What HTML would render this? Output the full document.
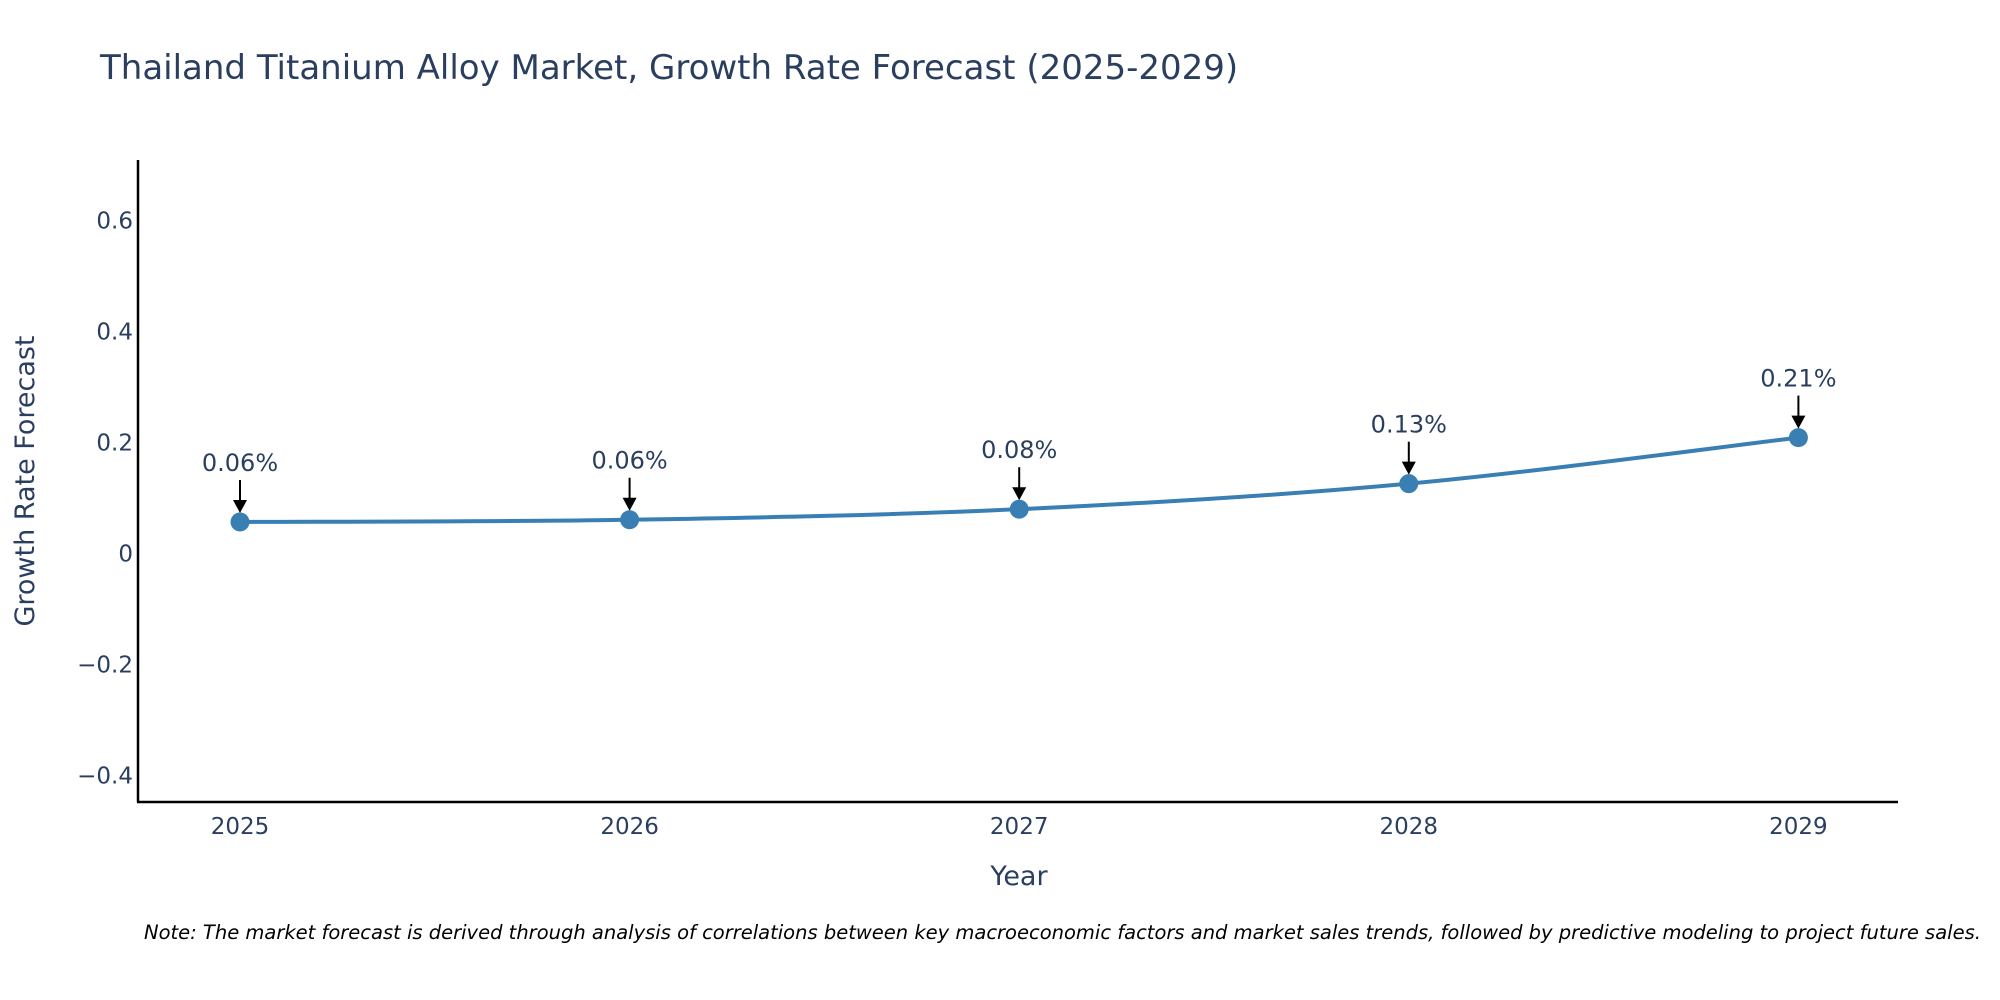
<!DOCTYPE html>
<html><head><meta charset="utf-8"><style>
body{margin:0;background:#fff;}
svg{display:block;font-family:"DejaVu Sans","Liberation Sans",sans-serif;}
</style></head><body>
<svg id="chart" width="2000" height="1000" viewBox="0 0 2000 1000">
<text x="100" y="79" font-size="34" fill="#2a3f5f">Thailand Titanium Alloy Market, Growth Rate Forecast (2025-2029)</text>
<g id="yticks"></g>
<g id="xticks"></g>
<line x1="138" y1="160" x2="138" y2="802" stroke="#000" stroke-width="2.5"/>
<line x1="137" y1="802" x2="1898" y2="802" stroke="#000" stroke-width="2.5"/>
<text x="0" y="0" transform="translate(34,481) rotate(-90)" text-anchor="middle" font-size="27" fill="#2a3f5f">Growth Rate Forecast</text>
<text x="1019" y="885" text-anchor="middle" font-size="27" fill="#2a3f5f">Year</text>
<g id="series"></g>
<text x="144" y="939" font-size="19.5" font-style="italic" fill="#000">Note: The market forecast is derived through analysis of correlations between key macroeconomic factors and market sales trends, followed by predictive modeling to project future sales.</text>
</svg>
<script>
const categories = ["2025","2026","2027","2028","2029"];
const values = [0.057, 0.061, 0.080, 0.126, 0.209];
const valueLabels = ["0.06%","0.06%","0.08%","0.13%","0.21%"];
const yTickValues = [-0.4,-0.2,0,0.2,0.4,0.6];
const yTickLabels = ["\u22120.4","\u22120.2","0","0.2","0.4","0.6"];
const NS="http://www.w3.org/2000/svg";
function xScale(i){return 240 + i*389.6;}
function yScale(v){return 553.6 - v*555;}
function mk(tag,attrs,parent){const e=document.createElementNS(NS,tag);for(const k in attrs)e.setAttribute(k,attrs[k]);parent.appendChild(e);return e;}
const yt=document.getElementById('yticks');
yTickValues.forEach((v,i)=>{
  const t=mk('text',{x:133,y:yScale(v)+8,'text-anchor':'end','font-size':'23',fill:'#2a3f5f'},yt);
  
  
  t.textContent=yTickLabels[i];
});
const xt=document.getElementById('xticks');
categories.forEach((c,i)=>{
  const t=mk('text',{x:xScale(i),y:834,'text-anchor':'middle','font-size':'23',fill:'#2a3f5f'},xt);
  
  
  t.textContent=c;
});
const s=document.getElementById('series');
const pts=values.map((v,i)=>[xScale(i),yScale(v)]);
let d=`M${pts[0][0]},${pts[0][1]}`;
for(let i=0;i<pts.length-1;i++){
  const p0=pts[Math.max(i-1,0)],p1=pts[i],p2=pts[i+1],p3=pts[Math.min(i+2,pts.length-1)];
  const k=1/6;
  d+=` C${p1[0]+(p2[0]-p0[0])*k},${p1[1]+(p2[1]-p0[1])*k} ${p2[0]-(p3[0]-p1[0])*k},${p2[1]-(p3[1]-p1[1])*k} ${p2[0]},${p2[1]}`;
}
const line=mk('path',{d:d,fill:'none',stroke:'#3a7fb4','stroke-width':'4'},s);


pts.forEach((p,i)=>{
  const c=mk('circle',{cx:p[0],cy:p[1],r:9.5,fill:'#3a7fb4'},s);
  
  
  const a=mk('line',{x1:p[0],y1:p[1]-42,x2:p[0],y2:p[1]-20,stroke:'#000','stroke-width':'2'},s);
  
  
  const h=mk('path',{d:`M${p[0]-7},${p[1]-22} L${p[0]+7},${p[1]-22} L${p[0]},${p[1]-9} Z`,fill:'#000'},s);
  
  
  const t=mk('text',{x:p[0],y:p[1]-51,'text-anchor':'middle','font-size':'24',fill:'#2a3f5f'},s);
  
  
  t.textContent=valueLabels[i];
});
</script>
</body></html>
